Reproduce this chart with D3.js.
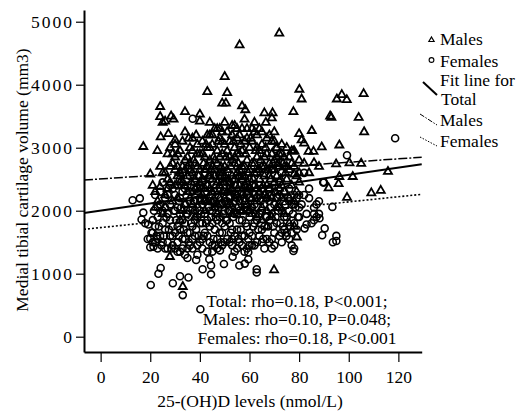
<!DOCTYPE html>
<html>
<head>
<meta charset="utf-8">
<script src="https://cdn.jsdelivr.net/npm/d3@7"></script>
<style>
  body { margin: 0; background: #fff; }
  svg text { font-family: "Liberation Serif", "Times New Roman", serif; fill: #000; }
</style>
</head>
<body>
<svg id="chart" width="525" height="414"></svg>
<script>
// ---- data ----
// males: [25-(OH)D nmol/L, cartilage volume mm3]
const males = [
  [72,4816],[56,4630],[50,4127],[43,3889],[51,3873],[49,3705],[50.5,3705],[24,3651],[24,3492],[34,3571],
  [28.4,3500],[29.4,3450],[25,3400],[26,3420],[40,3530],[40,3420],[57,3660],[58.3,3600],[66,3550],[69.3,3550],
  [66.6,3400],[69,3470],[77.7,3571],[80.1,3925],[81,3770],[92.5,3500],[93,3480],[95.2,3770],[97.2,3840],[99.2,3760],
  [106,3857],[104,3478],[106.2,3250],[17.2,3016],[22.9,2952],[24.2,3170],[27.3,3220],[30,3120],[34,3250],[85.1,3270],
  [80,3220],[81,3120],[82,3070],[83.8,2940],[85.8,2940],[89.1,3010],[96.2,3040],[77.7,2940],[94.9,2740],[100.3,2757],
  [96.2,2540],[95.9,2427],[101.6,2540],[105,2750],[115.8,2620],[109.1,2280],[112.9,2320],[99.3,2210],[91.9,2360],[69.9,1058],
  [27.9,1270],[33.1,794],[79.1,1580],[82,2750],[86,2760],[88,2700],[84,2600],[78,2580],
  [20,2580],[21,2400],[22,2300],[23,2150],[24,2380],[25,2600],[26,2250],[27,2900],[28,3000],[29,2750],
  [30,2650],[26,2050],[28,2450],[30,2850],[25,1950],[29,2150],[27,2350],[24,2700],[22,2050],[30,3050],
  [31,2550],[32,2950],[33,2700],[34,2400],[35,2850],[36,3000],[37,2600],[38,2750],[39,3050],[40,2900],
  [31,2200],[32,2450],[33,3100],[34,2800],[35,2300],[36,2650],[37,2100],[38,2500],[39,2300],[40,2650],
  [33,2000],[36,2200],[38,1900],[40,2150],[35,2550],[37,2950],[39,2700],[32,1850],[34,2100],[31,2900],
  [41,3100],[42,2850],[43,3000],[44,3200],[45,2700],[46,3300],[47,2950],[48,3150],[49,3250],[50,3400],
  [41,2500],[42,2650],[43,2400],[44,2800],[45,3050],[46,2550],[47,2750],[48,2400],[49,2900],[50,2700],
  [41,2250],[43,2150],[45,2300],[47,2100],[49,2300],[42,2000],[44,2350],[46,2050],[48,2600],[50,2200],
  [44,3000],[46,2800],[48,2850],[50,3050],[43,2700],[45,2500],[47,2450],[49,2600],[42,2350],[50,2450],
  [51,3250],[52,3100],[53,3350],[54,3000],[55,3300],[56,3200],[57,2950],[58,3100],[59,2800],[60,3000],
  [51,2650],[52,2850],[53,2550],[54,2750],[55,2600],[56,2900],[57,2500],[58,2700],[59,2450],[60,2650],
  [51,2300],[52,2100],[53,2350],[54,2200],[55,2050],[56,2400],[57,2250],[58,2150],[59,2300],[60,2000],
  [52,2450],[54,2500],[56,2650],[58,2400],[60,2350],[53,2800],[55,2900],[57,2700],[59,3150],[51,2950],
  [61,3300],[62,3250],[63,3200],[64,2950],[65,3050],[66,2850],[67,3150],[68,3200],[69,2900],[70,3100],
  [61,2750],[62,2600],[63,2850],[64,2500],[65,2700],[66,2550],[67,2400],[68,2750],[69,2650],[70,2800],
  [61,2200],[62,2400],[63,2150],[64,2300],[65,2050],[66,2250],[67,2000],[68,2350],[69,2200],[70,2450],
  [61,1950],[63,1900],[65,1850],[67,1750],[69,1900],
  [71,3000],[72,2900],[73,3050],[74,2850],[75,2700],[76,2650],[77,2950],[78,2700],[79,2550],[80,2600],
  [71,2550],[72,2700],[73,2400],[74,2300],[75,2500],[76,2200],[77,2400],[78,2150],[79,2300],[80,2450],
  [72,2050],[74,1950],[76,1800],[78,1750],[73,2200],
  [35.5,3150],[36.5,2450],[37.5,2800],[38.5,3200],[39.5,2550],[40.5,2350],[41.5,2750],[42.5,3050],[43.5,2550],[44.5,2650],
  [45.5,2850],[46.5,2400],[47.5,3100],[48.5,2700],[49.5,2450],[50.5,2850],[51.5,2500],[52.5,2700],[53.5,3100],[54.5,2400],
  [55.5,2750],[56.5,3050],[57.5,2350],[58.5,2900],[59.5,2600],[60.5,3150],[61.5,2500],[62.5,2950],[63.5,2650],[64.5,2800],
  [65.5,2400],[66.5,3000],[67.5,2650],[68.5,2500],[69.5,2750],[70.5,2300],[71.5,2750],[72.5,2500],[73.5,2750],[74.5,2600],
  [36,2750],[38,2350],[40,2450],[42,2150],[44,2550],[46,2650],[48,2200],[50,2550],[52,2300],[54,2850],
  [56,2550],[58,2550],[60,2500],[62,2750],[64,2650],[66,2700],[68,2550],[70,2650],[72,2350],[74,2700],
  [26,2600],[27,2500],[28,2700],[29,2900],[30,2400],[31,2700],[32,2600],[33,2450],[34,2650],[35,2700],
  [37,3150],[39,2900],[41,2900],[43,3200],[45,3200],[47,3300],[49,3100],[53,3200],[55,3150],[57,3300],
  [59,3300],[61,3100],[63,3000],[65,3250],[67,2900],[69,3100],[71,2850],[73,2900],[75,3000],[77,2750],
  [45,2150],[51,2100],[55,2250],[59,2100],[63,2350],[67,2200],[71,2050],[53,1950],[57,2000],[47,1950],
  [62,3400],[54,3350],[48,3300],[44,3400],[58,3450],[64,3300],[70,3250],[76,2850],[78,2950],[80,2800]
];
// females: [25-(OH)D nmol/L, cartilage volume mm3]
const females = [
  [118.7,3149],[99.3,2880],[70.7,2980],[37.1,3460],[12.9,2167],[15.8,2196],[17.2,1970],[16.5,1860],[19.2,1780],[20,1560],
  [21.3,1430],[20.2,820],[29.1,848],[33.1,660],[40.2,435],[23.3,1000],[24.2,1090],[32,960],[35.4,940],[38.5,1217],
  [41.1,1070],[43.8,1230],[44.5,1130],[44.5,990],[49.7,1155],[55.9,1130],[58.1,1160],[59.5,1340],[59.5,1230],[62.9,1070],
  [62.9,1020],[53.2,1270],[48.1,1370],[93.6,1500],[95,1520],[95,1600],[89.3,1610],[90.3,1720],[93.4,2060],[88.2,1880],
  [86,1950],[87,2100],[82.2,1720],[83,1780],[89.7,2450],[77.7,1360],[74.9,1600],
  [18,1800],[19,1550],[20,1420],[21,1650],[22,1750],[23,1900],[24,1600],[25,2000],[26,1700],[27,1500],
  [28,1850],[29,1450],[30,1650],[21,1850],[23,1550],[25,1800],[27,1950],[29,1750],[22,1500],[24,2100],
  [26,1400],[28,1600],[30,1400],[26,2200],[28,2100],[30,2000],[29,2350],[27,2250],[23,2050],[25,2450],
  [31,1500],[32,1700],[33,1850],[34,1550],[35,1950],[36,1450],[37,1750],[38,1600],[39,1900],[40,1500],
  [31,2050],[32,2200],[33,1400],[34,2100],[35,1650],[36,2000],[37,2300],[38,2150],[39,1450],[40,1800],
  [31,1750],[33,2300],[35,2400],[37,1550],[39,2050],[32,1350],[34,1800],[36,1650],[38,2450],[40,2200],
  [33,2600],[36,2550],[39,2350],[34,1300],[37,2050],[35,1250],[38,1850],[32,1950],[31,2400],[40,2000],
  [41,1400],[42,1650],[43,1850],[44,1500],[45,2000],[46,1700],[47,1550],[48,1900],[49,1450],[50,1750],
  [41,2100],[42,2300],[43,1600],[44,2150],[45,1350],[46,2050],[47,2250],[48,1650],[49,2100],[50,1500],
  [41,1800],[43,2400],[45,1800],[47,1850],[49,1800],[42,1950],[44,1750],[46,1450],[48,2350],[50,2000],
  [42,2600],[44,2500],[46,2300],[48,2550],[50,2300],[43,1350],[45,2250],[47,1400],[49,2550],[41,2450],
  [51,1550],[52,1800],[53,1450],[54,1950],[55,1700],[56,1500],[57,1850],[58,1600],[59,2000],[60,1650],
  [51,2150],[52,2350],[53,2050],[54,1600],[55,2200],[56,1850],[57,2300],[58,2050],[59,1400],[60,2200],
  [51,1850],[53,1700],[55,1400],[57,1600],[59,1750],[52,2000],[54,2400],[56,2150],[58,2400],[60,1900],
  [52,1500],[54,1350],[56,2550],[58,1350],[60,1450],[53,2500],[55,1950],[57,2550],[59,2250],[51,2450],
  [61,1600],[62,1800],[63,1500],[64,1950],[65,1700],[66,2100],[67,1550],[68,1850],[69,1400],[70,1650],
  [61,2050],[62,2250],[63,1850],[64,2400],[65,2000],[66,1750],[67,2200],[68,1500],[69,1950],[70,2100],
  [61,2400],[63,2200],[65,2350],[67,1900],[69,2250],[62,1450],[64,1600],[66,1400],[68,2350],[70,1450],
  [63,2600],[66,2600],[69,2650],
  [71,1800],[72,1600],[73,2000],[74,1700],[75,1900],[76,1550],[77,2100],[78,1800],[79,2200],[80,2050],
  [71,2200],[72,2450],[73,1500],[74,2300],[75,1650],[76,2000],[77,1450],[78,2250],[79,1700],[80,1900],
  [72,2050],[74,1900],[76,2350],[78,1400],[73,2600],
  [81,2100],[82,2250],[83,1950],[84,2200],[85,1800],[86,2050],[87,1900],[88,2150],[84,2350],[86,1850],
  [88,1950],[90,2450],[82,2600],
  [20.5,1650],[21.5,2000],[22.5,1600],[23.5,1750],[24.5,1450],[25.5,1600],[26.5,1900],[27.5,1700],[28.5,1400],[29.5,2000],
  [30.5,1850],[31.5,1600],[32.5,2050],[33.5,1700],[34.5,1950],[35.5,1500],[36.5,1800],[37.5,2150],[38.5,1700],[39.5,1600],
  [40.5,1950],[41.5,1600],[42.5,1800],[43.5,2050],[44.5,1900],[45.5,1550],[46.5,1900],[47.5,2050],[48.5,1500],[49.5,1950],
  [50.5,1850],[51.5,2000],[52.5,1650],[53.5,1900],[54.5,2150],[55.5,1550],[56.5,1700],[57.5,2000],[58.5,1800],[59.5,1550],
  [60.5,2050],[61.5,1750],[62.5,1950],[63.5,1700],[64.5,2150],[65.5,1550],[66.5,1900],[67.5,1750],[68.5,2050],[69.5,1750],
  [70.5,1900],[71.5,2000],[72.5,1800],[73.5,1750],[74.5,2100],[75.5,2200],[76.5,1750],[77.5,1950],[78.5,2050],[79.5,1900],
  [22,2250],[24,2300],[26,2050],[28,2400],[30,2250],[32,2500],[34,2350],[36,2300],[38,2000],[40,2400],
  [42,2150],[44,2000],[46,2150],[48,2100],[50,2150],[52,2200],[54,2250],[56,2000],[58,2200],[60,2350],
  [62,2100],[64,2250],[66,2250],[68,2150],[70,2300],[72,2250],[74,2150],[76,2150],[78,2100],[80,2250],
  [21,1500],[25,1500],[29,1600],[33,1550],[37,1400],[41,1550],[45,1450],[49,1650],[53,1550],[57,1450],
  [61,1450],[65,1500],[69,1550],[73,1650],[77,1650],[23,1400],[27,1400],[31,1350],[35,1400],[39,1300]
];
// fit lines: [intercept, slope]
const fitNames = ["Total", "Males", "Females"];
const fitCoef = [[2001, 5.68], [2505, 2.65], [1732, 4.08]];
const xTicks = [0, 20, 40, 60, 80, 100, 120];
const yTicks = [0, 1000, 2000, 3000, 4000, 5000];
const statLines = [
  "Total: rho=0.18, P<0.001;",
  "Males: rho=0.10, P=0.048;",
  "Females: rho=0.18, P<0.001"
];

const svg = d3.select("#chart");

const x = d3.scaleLinear().domain([-6.7, 129.4]).range([84, 421.7]);
const y = d3.scaleLinear().domain([-243, 5186]).range([352, 10]);

// axes
const xAxis = svg.append("g")
  .attr("transform", "translate(0,352)")
  .call(d3.axisBottom(x).tickValues(xTicks).tickSize(10).tickSizeOuter(0).tickPadding(9));
const yAxis = svg.append("g")
  .attr("transform", "translate(84,0)")
  .call(d3.axisLeft(y).tickValues(yTicks).tickFormat(d3.format("d")).tickSize(8).tickSizeOuter(0).tickPadding(2));

[xAxis, yAxis].forEach(a => {
  a.select(".domain").attr("stroke-width", 2);
  a.selectAll(".tick line").attr("stroke-width", 1.2);
  a.selectAll("text").attr("font-size", 17.5);
});
yAxis.selectAll("text").attr("letter-spacing", 2);

// points
const pts = svg.append("g");
const tri = d3.symbol(d3.symbolTriangle, 28);

pts.selectAll("path.male")
  .data(males)
  .enter()
  .append("path")
  .attr("class", "male")
  .attr("d", tri)
  .attr("transform", d => `translate(${x(d[0])},${y(d[1])})`)
  .attr("fill", "none")
  .attr("stroke", "#000")
  .attr("stroke-width", 1.8);

pts.selectAll("circle.female")
  .data(females)
  .enter()
  .append("circle")
  .attr("class", "female")
  .attr("cx", d => x(d[0]))
  .attr("cy", d => y(d[1]))
  .attr("r", 3.5)
  .attr("fill", "none")
  .attr("stroke", "#000")
  .attr("stroke-width", 1.6);

// fit lines
const dashes = [null, "9,2,2,2", "2,2"];
const widths = [2, 1.5, 1.6];
const x0 = x.domain()[0], x1 = x.domain()[1];
svg.append("g").selectAll("line")
  .data(fitCoef)
  .enter()
  .append("line")
  .attr("x1", x(x0))
  .attr("x2", x(x1))
  .attr("y1", d => y(d[0] + d[1] * x0))
  .attr("y2", d => y(d[0] + d[1] * x1))
  .attr("stroke", "#000")
  .attr("stroke-width", (d, i) => widths[i])
  .attr("stroke-dasharray", (d, i) => dashes[i]);

// stats text
svg.append("g").selectAll("text")
  .data(statLines)
  .enter()
  .append("text")
  .attr("x", 297)
  .attr("y", (d, i) => 307 + i * 18.3)
  .attr("text-anchor", "middle")
  .attr("font-size", 17.5)
  .text(d => d);

// axis titles
svg.append("text")
  .attr("x", 250)
  .attr("y", 407)
  .attr("text-anchor", "middle")
  .attr("font-size", 17.5)
  .text("25-(OH)D levels (nmol/L)");

svg.append("text")
  .attr("transform", "translate(28,180) rotate(-90)")
  .attr("text-anchor", "middle")
  .attr("font-size", 17.5)
  .text("Medial tibial cartilage volume (mm3)");

// legend
const lg = svg.append("g");
lg.append("path")
  .attr("d", d3.symbol(d3.symbolTriangle, 12))
  .attr("transform", "translate(431.5,40)")
  .attr("fill", "none").attr("stroke", "#000").attr("stroke-width", 1.2);
lg.append("circle")
  .attr("cx", 431.5).attr("cy", 60).attr("r", 2.4)
  .attr("fill", "none").attr("stroke", "#000").attr("stroke-width", 1.1);
lg.append("line").attr("x1", 423).attr("y1", 82).attr("x2", 437).attr("y2", 95)
  .attr("stroke", "#000").attr("stroke-width", 2);
lg.append("line").attr("x1", 420).attr("y1", 114).attr("x2", 437).attr("y2", 125)
  .attr("stroke", "#000").attr("stroke-width", 1).attr("stroke-dasharray", "5,1.5,1.5,1.5");
lg.append("line").attr("x1", 420).attr("y1", 137).attr("x2", 437).attr("y2", 146)
  .attr("stroke", "#000").attr("stroke-width", 1).attr("stroke-dasharray", "1.5,1.5");

const legendText = [["Males", 440, 45], ["Females", 440, 67], ["Fit line for", 440, 86],
                    ["Total", 441, 105], ["Males", 440, 126], ["Females", 440, 147]];
lg.selectAll("text")
  .data(legendText)
  .enter()
  .append("text")
  .attr("x", d => d[1])
  .attr("y", d => d[2])
  .attr("font-size", 17.5)
  .text(d => d[0]);
</script>
</body>
</html>
